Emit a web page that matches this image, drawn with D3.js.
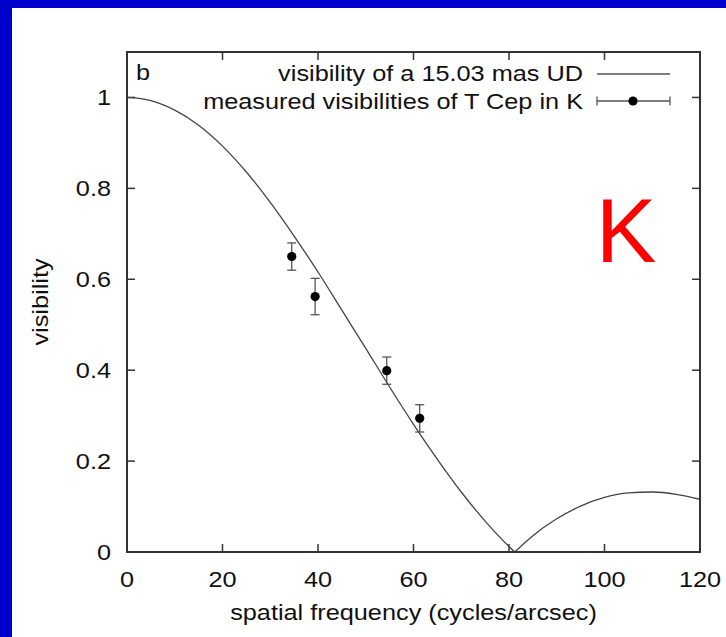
<!DOCTYPE html>
<html><head><meta charset="utf-8">
<script src="https://cdn.jsdelivr.net/npm/d3@7"></script>
<style>
html,body{margin:0;padding:0;background:#fff;}
svg{display:block;font-family:"Liberation Sans",Arial,Helvetica,sans-serif;}
</style></head>
<body>
<svg id="chart" width="726" height="637"></svg>
<script>
// Uniform-disk model curve
const curveFreq = [0,5,10,15,20,25,30,35,40,45,50,55,60,65,70,75,80,81.2,85,90,95,100,105,110,115,120];
const curveVis  = [1,0.993,0.972,0.939,0.893,0.836,0.769,0.695,0.616,0.532,0.448,0.363,0.281,0.204,0.132,0.068,0.012,0,0.036,0.073,0.101,0.120,0.130,0.132,0.127,0.116];
// Measured visibilities
const measFreq = [34.5, 39.4, 54.4, 61.3];
const measVis  = [0.650, 0.562, 0.399, 0.294];
const measErr  = [0.030, 0.040, 0.030, 0.030];
const xTicks = [0,20,40,60,80,100,120];
const yTicks = [0,0.2,0.4,0.6,0.8,1];
const legendLabels = ["visibility of a 15.03 mas UD","measured visibilities of T Cep in K"];

const svg = d3.select("#chart");
const W = 726, H = 637;
svg.append("rect").attr("x",0).attr("y",0).attr("width",W).attr("height",H).attr("fill","#0000cc");
svg.append("rect").attr("x",12).attr("y",8).attr("width",W-12).attr("height",H-8).attr("fill","#fff");

const L=127, R=700, T=52, B=552;
const x = d3.scaleLinear().domain([0,120]).range([L,R]);
const y = d3.scaleLinear().domain([0,1.1]).range([B,T]);
const axisCol = "#333";
const fs = 22, sx = 1.15;

function txt(px, py, s, anchor, rot){
  return svg.append("text")
    .attr("transform", `translate(${px},${py})` + (rot?` rotate(${rot})`:"") + ` scale(${sx},1)`)
    .attr("text-anchor", anchor||"start").attr("font-size", fs).attr("fill","#111").text(s);
}

const tickLen = 8;
const g = svg.append("g");
xTicks.forEach(t=>{
  g.append("line").attr("x1",x(t)).attr("x2",x(t)).attr("y1",B).attr("y2",B-tickLen).attr("stroke",axisCol).attr("stroke-width",1.5);
  g.append("line").attr("x1",x(t)).attr("x2",x(t)).attr("y1",T).attr("y2",T+tickLen).attr("stroke",axisCol).attr("stroke-width",1.5);
  txt(x(t), 587, String(t), "middle");
});
yTicks.forEach(t=>{
  g.append("line").attr("x1",L).attr("x2",L+tickLen).attr("y1",y(t)).attr("y2",y(t)).attr("stroke",axisCol).attr("stroke-width",1.5);
  g.append("line").attr("x1",R).attr("x2",R-tickLen).attr("y1",y(t)).attr("y2",y(t)).attr("stroke",axisCol).attr("stroke-width",1.5);
  txt(111, y(t)+8, t===0?"0":(t===1?"1":d3.format(".1f")(t)), "end");
});

const clipId="clipPlot";
svg.append("clipPath").attr("id",clipId).append("rect").attr("x",L).attr("y",T).attr("width",R-L).attr("height",B-T);
const line = d3.line().x(d=>x(d[0])).y(d=>y(d[1])).curve(d3.curveMonotoneX);
const cdata = curveFreq.map((f,i)=>[f,curveVis[i]]);
const zi = curveVis.indexOf(0);
svg.append("path").attr("clip-path",`url(#${clipId})`).attr("d",line(cdata.slice(0,zi+1))+line(cdata.slice(zi))).attr("fill","none").attr("stroke","#444").attr("stroke-width",1.3);

const ec="#555", cap=4.5;
measFreq.forEach((f,i)=>{
  const cx=x(f), y1=y(measVis[i]+measErr[i]), y2=y(measVis[i]-measErr[i]);
  svg.append("line").attr("x1",cx).attr("x2",cx).attr("y1",y1).attr("y2",y2).attr("stroke",ec).attr("stroke-width",1.3);
  svg.append("line").attr("x1",cx-cap).attr("x2",cx+cap).attr("y1",y1).attr("y2",y1).attr("stroke",ec).attr("stroke-width",1.3);
  svg.append("line").attr("x1",cx-cap).attr("x2",cx+cap).attr("y1",y2).attr("y2",y2).attr("stroke",ec).attr("stroke-width",1.3);
  svg.append("circle").attr("cx",cx).attr("cy",y(measVis[i])).attr("r",4.6).attr("fill","#000");
});

svg.append("rect").attr("x",L).attr("y",T).attr("width",R-L).attr("height",B-T).attr("fill","none").attr("stroke",axisCol).attr("stroke-width",2);

txt(136, 80, "b", "start");
txt(583, 81, legendLabels[0], "end");
txt(583, 109, legendLabels[1], "end");
svg.append("line").attr("x1",597).attr("x2",670).attr("y1",74).attr("y2",74).attr("stroke","#555").attr("stroke-width",1.3);
svg.append("line").attr("x1",597).attr("x2",670).attr("y1",101).attr("y2",101).attr("stroke","#555").attr("stroke-width",1.3);
[597,670].forEach(cx=>svg.append("line").attr("x1",cx).attr("x2",cx).attr("y1",96.5).attr("y2",105.5).attr("stroke","#555").attr("stroke-width",1.3));
svg.append("circle").attr("cx",633).attr("cy",101).attr("r",4.6).attr("fill","#000");

txt((L+R)/2, 620, "spatial frequency (cycles/arcsec)", "middle");
txt(48, (T+B)/2, "visibility", "middle", -90);

svg.append("text").attr("x",626).attr("y",262).attr("text-anchor","middle").attr("font-size",91).attr("fill","#ff0000").text("K");
</script>
</body></html>
